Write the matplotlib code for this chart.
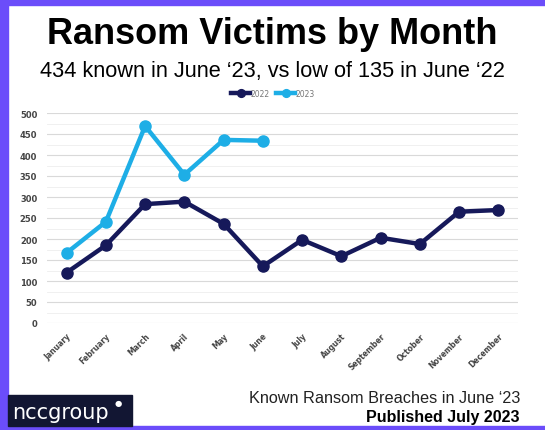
import matplotlib.pyplot as plt
from matplotlib.patches import Rectangle
from matplotlib.ticker import MultipleLocator

months = ['January', 'February', 'March', 'April', 'May', 'June', 'July',
          'August', 'September', 'October', 'November', 'December']
victims_2022 = [120, 185, 283, 289, 236, 135, 198, 159, 203, 188, 265, 269]
victims_2023 = [167, 241, 469, 353, 436, 434]

navy = '#16195a'
light_blue = '#1eaee6'
purple = '#6b4dfa'

fig = plt.figure(figsize=(5.45, 4.31), dpi=100)
fig.patch.set_facecolor('white')

# purple frame on top, left, bottom
fig.add_artist(Rectangle((0, 0), 1, 4 / 431, transform=fig.transFigure, color=purple, zorder=0))
fig.add_artist(Rectangle((0, 425 / 431), 1, 6 / 431, transform=fig.transFigure, color=purple, zorder=0))
fig.add_artist(Rectangle((0, 0), 8 / 545, 1, transform=fig.transFigure, color=purple, zorder=0))

ax = fig.add_axes([47 / 545, (431 - 324) / 431, (518 - 47) / 545, (324 - 114) / 431])
x = list(range(len(months)))
ax.plot(x, victims_2022, color=navy, lw=3.2, marker='o', ms=8, label='2022', zorder=3)
ax.plot(x[:len(victims_2023)], victims_2023, color=light_blue, lw=3.2, marker='o', ms=8,
        label='2023', zorder=4)

ax.set_xlim(-0.5, 11.5)
ax.set_ylim(0, 500)
ax.yaxis.set_major_locator(MultipleLocator(50))
ax.yaxis.set_minor_locator(MultipleLocator(25))
ax.grid(axis='y', which='major', color='#d9d9d9', lw=0.8)
ax.grid(axis='y', which='minor', color='#eeeeee', lw=0.6)
ax.set_axisbelow(True)
for s in ax.spines.values():
    s.set_visible(False)
ax.tick_params(axis='both', which='both', length=0)
ax.tick_params(axis='y', labelsize=6, labelcolor='#444444', pad=7)
for lab in ax.get_yticklabels():
    lab.set_fontweight('bold')
ax.set_xticks(x)
ax.set_xticklabels(months, rotation=45, ha='right', rotation_mode='anchor',
                   fontsize=5.5, color='#444444', fontweight='bold')
ax.tick_params(axis='x', pad=6)

ax.legend(loc='lower center', bbox_to_anchor=(0.48, 1.04), ncol=2, frameon=False,
          fontsize=5.5, labelcolor='#777777', handlelength=2.5, handletextpad=0.1,
          columnspacing=0.8, markerscale=0.7)

fig.text(0.5, 1 - 35 / 431, 'Ransom Victims by Month', ha='center', va='center',
         fontsize=26, fontweight='bold', family='Liberation Sans')
fig.text(0.5, 1 - 71 / 431, '434 known in June \u201823, vs low of 135 in June \u201822',
         ha='center', va='center', fontsize=15.7, family='Liberation Sans')

fig.text(520 / 545, 1 - 399 / 431, 'Known Ransom Breaches in June \u201823', ha='right',
         va='center', fontsize=11.7, color='#222222', family='Liberation Sans')
fig.text(520 / 545, 1 - 418 / 431, 'Published July 2023', ha='right', va='center',
         fontsize=11.5, fontweight='bold', family='Liberation Sans')

# nccgroup logo box
fig.add_artist(Rectangle((8 / 545, 4 / 431), 124 / 545, 31 / 431, transform=fig.transFigure,
                         color='#121633', zorder=1))
fig.text(12 / 545, 1 - 413 / 431, 'nccgroup', ha='left', va='center', fontsize=15,
         color='white', family='DejaVu Sans', zorder=2)
fig.text(118 / 545, 1 - 404 / 431, '\u25cf', ha='center', va='center', fontsize=6,
         color='white', zorder=2)

fig.savefig('out.png', dpi=100)
